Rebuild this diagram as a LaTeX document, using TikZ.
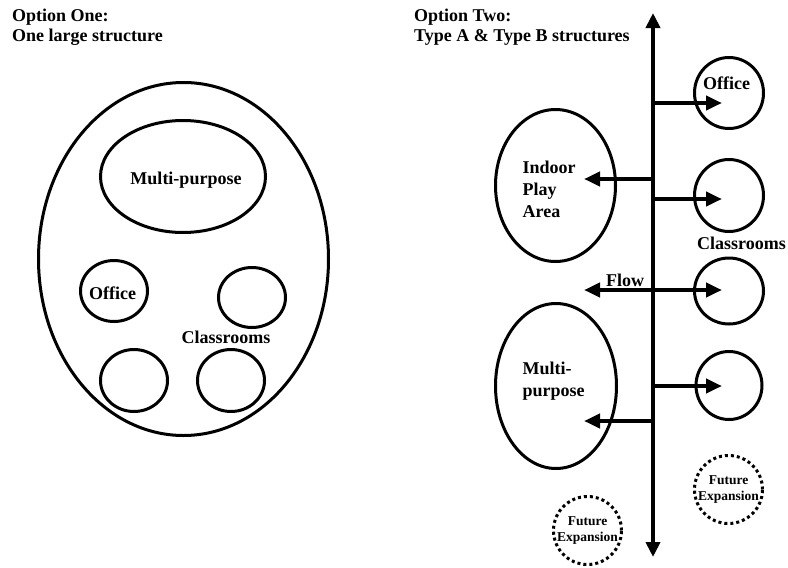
\documentclass[tikz,border=0pt]{standalone}
\usepackage{fontspec}
\setmainfont{Liberation Serif}
\usetikzlibrary{shapes.geometric,arrows.meta}
\begin{document}
\begin{tikzpicture}[x=1pt,y=-1pt,
  room/.style={draw,ellipse,line width=3pt,inner sep=0pt},
  future/.style={draw,circle,line width=3pt,dash pattern=on 3pt off 3pt,inner sep=0pt,
     minimum size=68pt,align=center,font=\bfseries\fontsize{13.5}{15.5}\selectfont},
  lbl/.style={font=\bfseries\fontsize{18}{22}\selectfont,inner sep=0pt},
  ttl/.style={font=\bfseries\fontsize{18}{20}\selectfont,inner sep=0pt,align=left,anchor=base west},
  flowarrow/.style={line width=4pt,-{Triangle[length=16pt,width=14pt]}},
  spine/.style={line width=4pt,{Triangle[length=15pt,width=14pt]}-{Triangle[length=15pt,width=14pt]}}
]
\useasboundingbox (0,0) rectangle (788,568);

% ---------- Option One ----------
\node[ttl] (t1) at (12,41.5) {Option One:\\One large structure};
\node[room,minimum width=290pt,minimum height=353pt] (big) at (183.5,259) {};
\node[room,minimum width=165pt,minimum height=112pt] (mp1) at (183,176.5) {};
\node[lbl,anchor=base] (mp1l) at (186,184) {Multi-purpose};
\node[room,minimum width=67pt,minimum height=61pt] (of1) at (114,291) {};
\node[lbl,anchor=base] (of1l) at (112.5,299) {Office};
\node[room,minimum width=67pt,minimum height=60pt] (c1a) at (252,297.5) {};
\node[room,minimum width=67pt,minimum height=62pt] (c1b) at (134,380.5) {};
\node[room,minimum width=67pt,minimum height=62pt] (c1c) at (231,380.5) {};
\node[lbl,anchor=base] (cl1) at (226,343) {Classrooms};

% ---------- Option Two ----------
\node[ttl] (t2) at (414,41.5) {Option Two:\\Type A \& Type B structures};

\coordinate (top) at (653,13);
\coordinate (bot) at (653,557);
\draw[spine] (bot) -- (top);

\node[room,minimum width=120pt,minimum height=152pt] (ind) at (555.5,185.5) {};
\node[lbl,anchor=base west,align=left] (indl) at (522.5,217) {Indoor\\Play\\Area};
\node[room,minimum width=121pt,minimum height=165pt] (mp2) at (556,386) {};
\node[lbl,anchor=base west,align=left] (mp2l) at (522.5,396) {Multi-\\purpose};

\node[room,minimum width=69pt,minimum height=71pt] (of2) at (729,93) {};
\node[lbl,anchor=base] (of2l) at (726.7,89) {Office};
\node[room,minimum width=69pt,minimum height=72pt] (c2) at (729,195.5) {};
\node[room,minimum width=69pt,minimum height=66pt] (c3) at (729,291) {};
\node[room,minimum width=66pt,minimum height=68pt] (c4) at (729,385.5) {};
\node[lbl,anchor=base] (cl2) at (741.5,249) {Classrooms};

\node[future] (fe1) at (728.5,489.5) {Future\\Expansion};
\node[future] (fe2) at (587.5,530.5) {Future\\Expansion};

% branch coordinates
\coordinate (s1) at (653,103);  \coordinate (e1) at (722,103);
\coordinate (s2) at (653,179);  \coordinate (e2) at (584,179);
\coordinate (s3) at (653,199);  \coordinate (e3) at (722,199);
\coordinate (e4l) at (584,290); \coordinate (e4r) at (722,290);
\coordinate (s5) at (653,386);  \coordinate (e5) at (722,386);
\coordinate (s6) at (653,421);  \coordinate (e6) at (584,421);

\draw[flowarrow] (s1) -- (e1);
\draw[flowarrow] (s2) -- (e2);
\draw[flowarrow] (s3) -- (e3);
\draw[flowarrow,{Triangle[length=16pt,width=14pt]}-{Triangle[length=16pt,width=14pt]}] (e4l) -- (e4r);
\draw[flowarrow] (s5) -- (e5);
\draw[flowarrow] (s6) -- (e6);
\node[lbl,anchor=base] (flowl) at (625,286) {Flow};
\end{tikzpicture}
\end{document}
